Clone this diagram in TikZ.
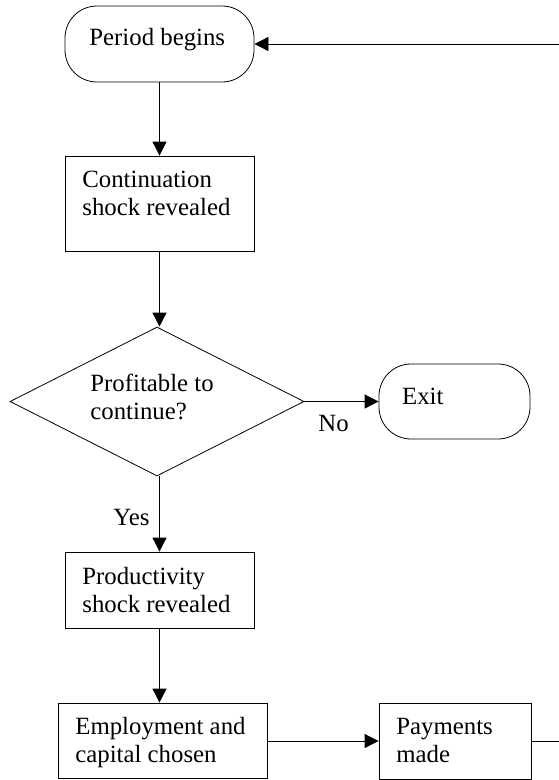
\documentclass[tikz,border=0pt]{standalone}
\usepackage{fontspec}
\setmainfont{Liberation Serif}
\usetikzlibrary{shapes.geometric,arrows.meta}

\begin{document}
\begin{tikzpicture}[x=1pt,y=-1pt,line width=0.8pt,
	box/.style={draw,rectangle,inner sep=0pt},
	term/.style={draw,rectangle,rounded corners=32pt,inner sep=0pt},
	txt/.style={anchor=base west,inner sep=0pt,align=left,font=\fontsize{24.8pt}{27.7pt}\selectfont},
	>={Triangle[length=14pt,width=14pt]}]
		\useasboundingbox (0,0) rectangle (559,780);
		
		\node[term,minimum width=189pt,minimum height=76pt] (begin) at (159.5,44) {};
		\node[txt] (begin-txt) at (89,45.7) {Period begins};
		
		\node[box,minimum width=189pt,minimum height=95pt] (cont) at (159.5,203.5) {};
		\node[txt] (cont-txt) at (82,215) {Continuation\\shock revealed};
		
		\node[draw,diamond,inner sep=0pt,minimum width=294pt,minimum height=149pt] (dec) at (157,401.5) {};
		\node[txt] (dec-txt) at (90,419) {Profitable to\\continue?};
		
		\node[term,minimum width=151pt,minimum height=75pt] (exit) at (454.5,401.5) {};
		\node[txt] (exit-txt) at (401.7,404) {Exit};
		
		\node[box,minimum width=189pt,minimum height=76pt] (prod) at (159.5,590) {};
		\node[txt] (prod-txt) at (82,612) {Productivity\\shock revealed};
		
		\node[box,minimum width=209pt,minimum height=75pt] (emp) at (162.5,740.5) {};
		\node[txt] (emp-txt) at (75,762) {Employment and\\capital chosen};
		
		\node[box,minimum width=152pt,minimum height=76pt] (pay) at (455,741) {};
		\node[txt] (pay-txt) at (396,762) {Payments\\made};
		
		\coordinate (top-end) at (559,44);
		\coordinate (bot-end) at (559,741);
		
		\draw[->] (top-end) -- (begin.east);
		\draw[->] (begin.south) -- (cont.north);
		\draw[->] (cont.south) -- (cont.south |- dec.north);
		\draw[->] (dec.east) -- (exit.west);
		\draw[->] (prod.north |- dec.south) -- (prod.north);
		\draw[->] (prod.south) -- (prod.south |- emp.north);
		\draw[->] (emp.east |- pay.west) -- (pay.west);
		\draw (pay.east) -- (bot-end);
		
		\node[txt] (no) at (318,431.7) {No};
		\node[txt] (yes) at (113,525) {Yes};
		\end{tikzpicture}
\end{document}
